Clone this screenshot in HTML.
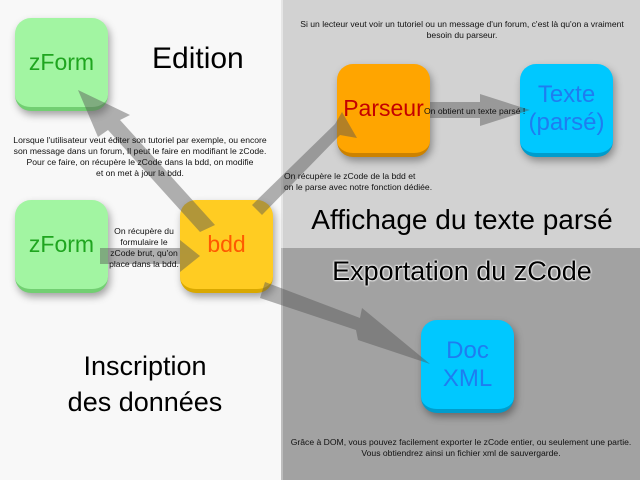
<!DOCTYPE html>
<html><head><meta charset="utf-8"><style>
body{margin:0;width:640px;height:480px;overflow:hidden;font-family:"Liberation Sans",sans-serif;position:relative;background:#f8f8f8}
.bg{position:absolute}
.box{position:absolute;width:93px;height:89px;border-radius:16px;display:flex;align-items:center;justify-content:center;text-align:center;box-shadow:2px 4px 8px rgba(0,0,0,.35);line-height:1.15}
.t{position:absolute;color:#000;text-align:center;white-space:nowrap}
.s{font-size:8.6px;line-height:11px;letter-spacing:0;color:#111}
svg{position:absolute;left:0;top:0}
</style></head><body>
<div class="bg" style="left:281px;top:0;width:359px;height:248px;background:#d2d2d2;border-left:2px solid #e6e6e6"></div>
<div class="bg" style="left:281px;top:248px;width:359px;height:232px;background:#a2a2a2;border-left:2px solid #bdbdbd"></div>

<div class="box" style="left:15px;top:18px;background:#a2f5a2;border-bottom:4px solid #72cf72;color:#1fa51f;font-size:23px">zForm</div>
<div class="box" style="left:15px;top:200px;background:#a2f5a2;border-bottom:4px solid #72cf72;color:#1fa51f;font-size:23px">zForm</div>
<div class="box" style="left:180px;top:200px;background:#ffcc22;border-bottom:4px solid #d9a800;color:#ff5a00;font-size:23px">bdd</div>
<div class="box" style="left:337px;top:64px;background:#ffa500;border-bottom:4px solid #cc8200;color:#c40000;font-size:23px">Parseur</div>
<div class="box" style="left:520px;top:64px;background:#00c8ff;border-bottom:4px solid #009ccc;color:#1e7df0;font-size:24px">Texte<br>(parsé)</div>
<div class="box" style="left:421px;top:320px;background:#00c8ff;border-bottom:4px solid #009ccc;color:#1e7df0;font-size:24px">Doc<br>XML</div>

<svg width="640" height="480">
<g fill="#555" opacity=".45">
<polygon points="78,90 130,115 120,120 215,225 200,232 108,130 98,137"/>
<polygon points="357,138 342,112 335,124 252,205 262,215 340,135"/>
<polygon points="100,248 180,248 180,240 200,256 180,272 180,264 100,264"/>
<polygon points="430,102 480,102 480,94 530,110 480,126 480,118 430,118"/>
<polygon points="265,282 360,318 362,308 430,364 358,340 356,330 260,298"/>
</g>
</svg>

<div class="t" style="left:152px;top:42px;font-size:30px">Edition</div>
<div class="t s" style="left:0px;top:135px;width:280px">Lorsque l'utilisateur veut éditer son tutoriel par exemple, ou encore<br>son message dans un forum, Il peut le faire en modifiant le zCode.<br>Pour ce faire, on récupère le zCode dans la bdd, on modifie<br>et on met à jour la bdd.</div>
<div class="t s" style="left:104px;top:226px;width:80px">On récupère du<br>formulaire le<br>zCode brut, qu'on<br>place dans la bdd.</div>
<div class="t" style="left:40px;top:348px;width:210px;font-size:27px;line-height:36px">Inscription<br>des données</div>
<div class="t s" style="left:284px;top:19px;width:356px">Si un lecteur veut voir un tutoriel ou un message d'un forum, c'est là qu'on a vraiment<br>besoin du parseur.</div>
<div class="t s" style="left:424px;top:106px;text-align:left">On obtient un texte parsé !</div>
<div class="t s" style="left:284px;top:171px;text-align:left">On récupère le zCode de la bdd et<br>on le parse avec notre fonction dédiée.</div>
<div class="t" style="left:284px;top:204px;width:356px;font-size:28px">Affichage du texte parsé</div>
<div class="t" style="left:284px;top:256px;width:356px;font-size:27px;text-shadow:0 0 2px #fff,0 0 2px #fff,0 0 2px #fff">Exportation du zCode</div>
<div class="t s" style="left:282px;top:437px;width:358px">Grâce à DOM, vous pouvez facilement exporter le zCode entier, ou seulement une partie.<br>Vous obtiendrez ainsi un fichier xml de sauvergarde.</div>
</body></html>
